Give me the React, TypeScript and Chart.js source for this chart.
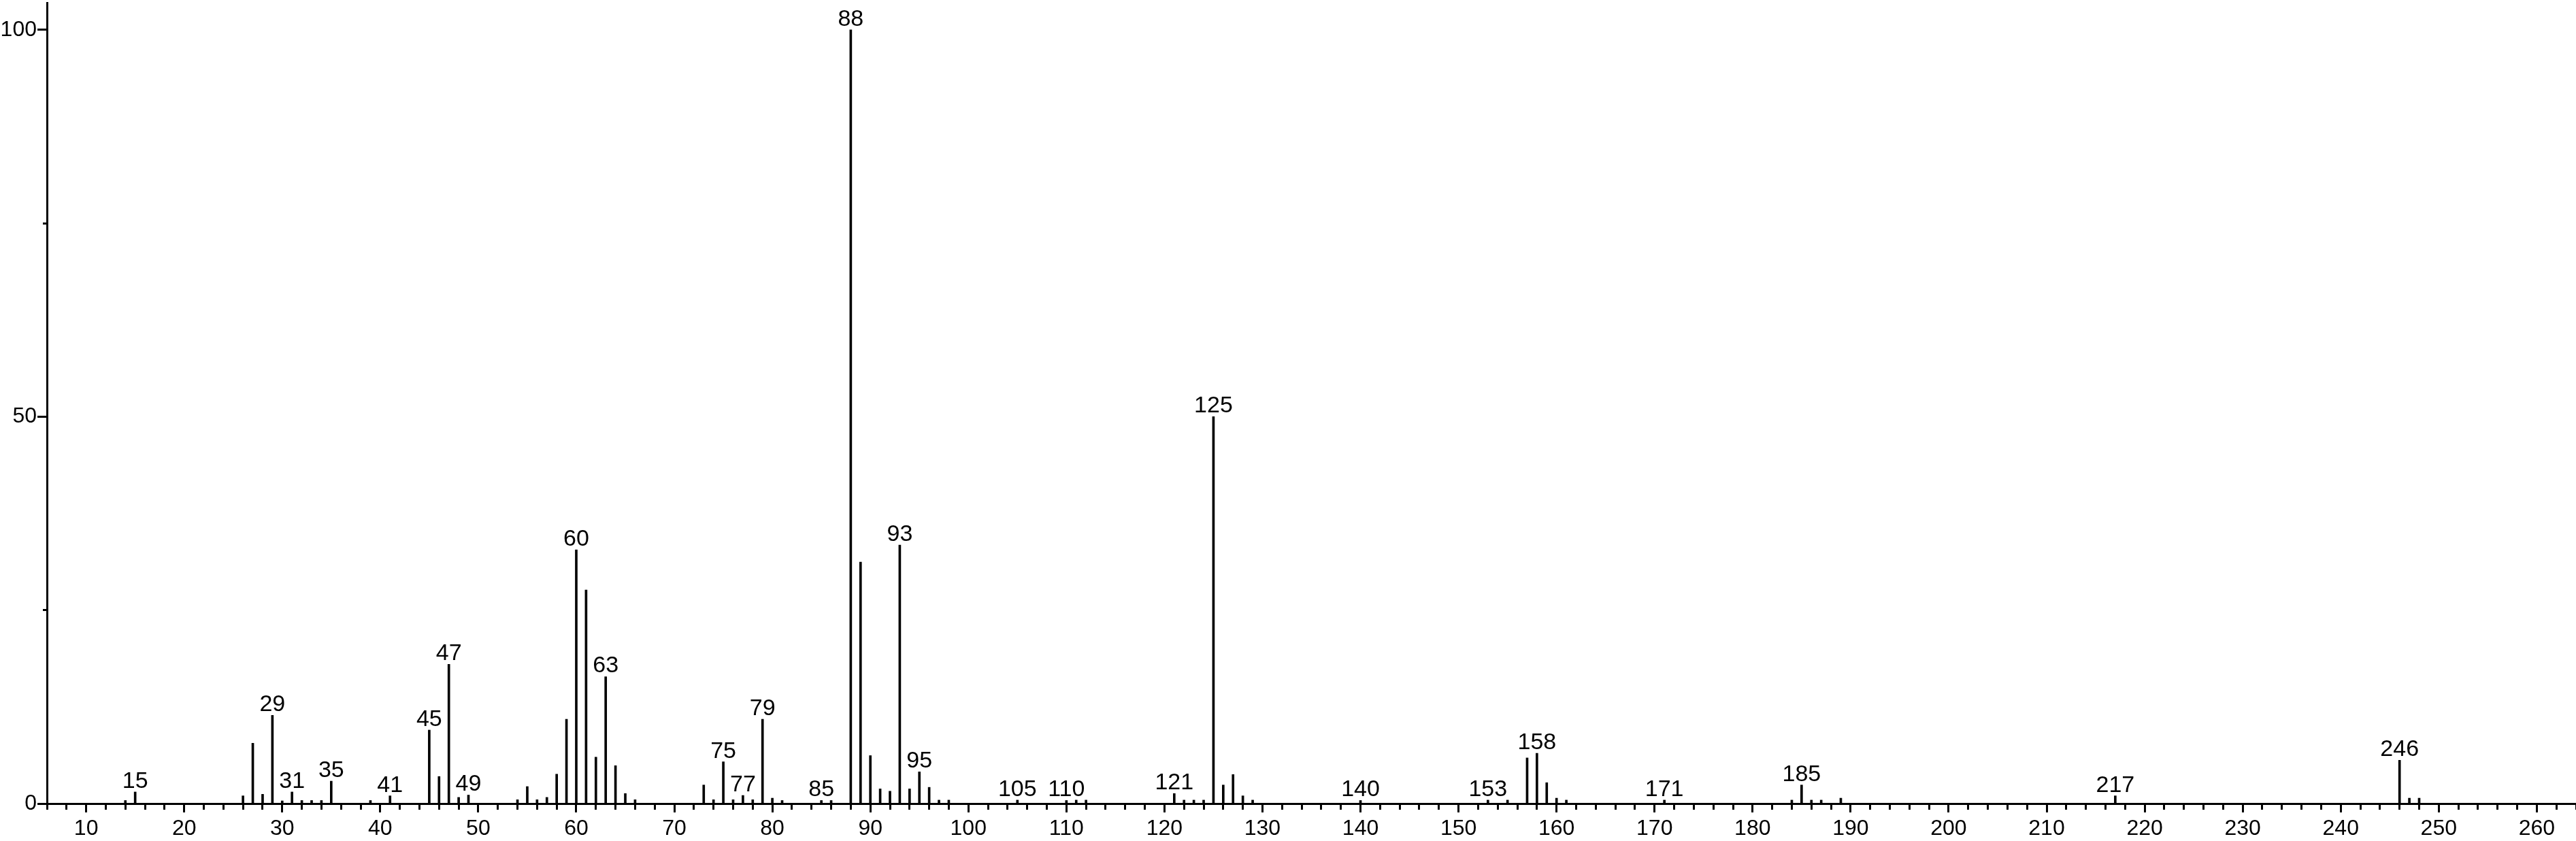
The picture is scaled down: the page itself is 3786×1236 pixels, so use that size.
import React, { useEffect, useRef } from 'react';
import { Chart, registerables } from 'chart.js';

Chart.register(...registerables);

// m/z values of the spectrum peaks
const masses = [
  14, 15, 26, 27, 28, 29, 30, 31, 32, 33, 34, 35, 39, 41, 45, 46, 47, 48, 49,
  54, 55, 56, 57, 58, 59, 60, 61, 62, 63, 64, 65, 66, 73, 74, 75, 76, 77, 78, 79,
  80, 81, 85, 86, 88, 89, 90, 91, 92, 93, 94, 95, 96, 97, 98, 105, 110, 111, 112,
  121, 122, 123, 124, 125, 126, 127, 128, 129, 140, 153, 155, 157, 158, 159, 160,
  161, 171, 184, 185, 186, 187, 189, 217, 246, 247, 248,
];

// relative intensities (%)
const intensities = [
  0.4, 1.5, 1.0, 7.8, 1.2, 11.4, 0.35, 1.5, 0.4, 0.4, 0.4, 2.9, 0.4, 1.0, 9.5, 3.5, 18.0, 0.8, 1.1,
  0.5, 2.2, 0.5, 0.8, 3.8, 10.9, 32.8, 27.6, 6.0, 16.4, 4.9, 1.3, 0.5, 2.4, 0.5, 5.4, 0.5, 1.05, 0.5, 10.9,
  0.7, 0.4, 0.4, 0.4, 100, 31.2, 6.2, 1.9, 1.6, 33.4, 1.9, 4.1, 2.1, 0.45, 0.45, 0.45, 0.4, 0.45, 0.45,
  1.3, 0.45, 0.45, 0.45, 50.0, 2.4, 3.75, 1.0, 0.45, 0.4, 0.45, 0.45, 5.9, 6.5, 2.7, 0.7,
  0.45, 0.45, 0.45, 2.4, 0.45, 0.45, 0.7, 1.0, 5.6, 0.7, 0.7,
];

// peaks that carry an m/z label
const labelledMasses = [
  15, 29, 31, 35, 41, 45, 47, 49, 60, 63, 75, 77, 79, 85, 88, 93, 95, 105, 110,
  121, 125, 140, 153, 158, 171, 185, 217, 246,
];

// tick label values
const xLabelledTicks = [10, 20, 30, 40, 50, 60, 70, 80, 90, 100, 110, 120, 130, 140, 150, 160, 170, 180, 190, 200, 210, 220, 230, 240, 250, 260];
const yLabelledTicks = [0, 50, 100];

const FONT = '"Liberation Sans", Arial, sans-serif';

export default function App() {
  const ref = useRef<HTMLCanvasElement>(null);

  useEffect(() => {
    document.body.style.margin = '0';
    const canvas = ref.current;
    if (!canvas) return;

    const peakLabels = {
      id: 'peakLabels',
      afterDatasetsDraw(chart: any) {
        const ctx = chart.ctx;
        const meta = chart.getDatasetMeta(0);
        ctx.save();
        ctx.fillStyle = '#000';
        ctx.font = `34px ${FONT}`;
        ctx.textAlign = 'center';
        ctx.textBaseline = 'alphabetic';
        labelledMasses.forEach((m) => {
          const i = masses.indexOf(m);
          if (i < 0) return;
          const el = meta.data[i];
          ctx.fillText(String(m), el.x, el.y - 6);
        });
        ctx.restore();
      },
    };

    const chart = new Chart(canvas, {
      type: 'bar',
      data: {
        datasets: [
          {
            data: masses.map((m, i) => ({ x: m, y: intensities[i] })),
            backgroundColor: '#000',
            borderWidth: 0,
            barThickness: 3,
            grouped: false,
          } as any,
        ],
      },
      options: {
        responsive: false,
        animation: false,
        devicePixelRatio: 1,
        layout: { padding: { top: 4, right: 0, left: 0, bottom: 0 } },
        plugins: {
          legend: { display: false },
          tooltip: { enabled: false },
          title: { display: false },
        },
        scales: {
          x: {
            type: 'linear',
            min: 6,
            max: 264,
            offset: false,
            afterFit: (s: any) => {
              s.height = 55;
              s.paddingLeft = 0;
              s.paddingRight = 0;
            },
            border: { display: true, color: '#000', width: 3 },
            grid: {
              display: true,
              offset: false,
              drawOnChartArea: false,
              drawTicks: true,
              tickLength: 13,
              tickWidth: 3,
              tickColor: '#000',
              tickBorderDash: (ctx: any) =>
                ctx.tick && xLabelledTicks.includes(ctx.tick.value) ? [] : [7, 200],
            },
            ticks: {
              stepSize: 2,
              autoSkip: false,
              includeBounds: false,
              maxRotation: 0,
              minRotation: 0,
              padding: 5,
              color: '#000',
              font: { family: FONT, size: 32 },
              callback: (v: any) => (xLabelledTicks.includes(Number(v)) ? String(v) : ''),
            },
          },
          y: {
            type: 'linear',
            min: 0,
            max: 103.5,
            afterFit: (s: any) => {
              s.width = 69;
              s.paddingTop = 0;
              s.paddingBottom = 0;
            },
            border: { display: true, color: '#000', width: 3 },
            grid: {
              display: true,
              drawOnChartArea: false,
              drawTicks: true,
              tickLength: 14,
              tickWidth: 3,
              tickColor: '#000',
              tickBorderDash: (ctx: any) =>
                ctx.tick && yLabelledTicks.includes(ctx.tick.value) ? [] : [0, 8, 6, 200],
            },
            ticks: {
              stepSize: 25,
              autoSkip: false,
              includeBounds: false,
              padding: 1,
              color: '#000',
              font: { family: FONT, size: 32 },
              callback: (v: any) => (yLabelledTicks.includes(Number(v)) ? String(v) : ''),
            },
          },
        },
      },
      plugins: [peakLabels],
    });

    return () => chart.destroy();
  }, []);

  return (
    <div style={{ width: 3786, height: 1236, background: '#fff' }}>
      <canvas ref={ref} width={3786} height={1236} style={{ display: 'block' }} />
    </div>
  );
}
